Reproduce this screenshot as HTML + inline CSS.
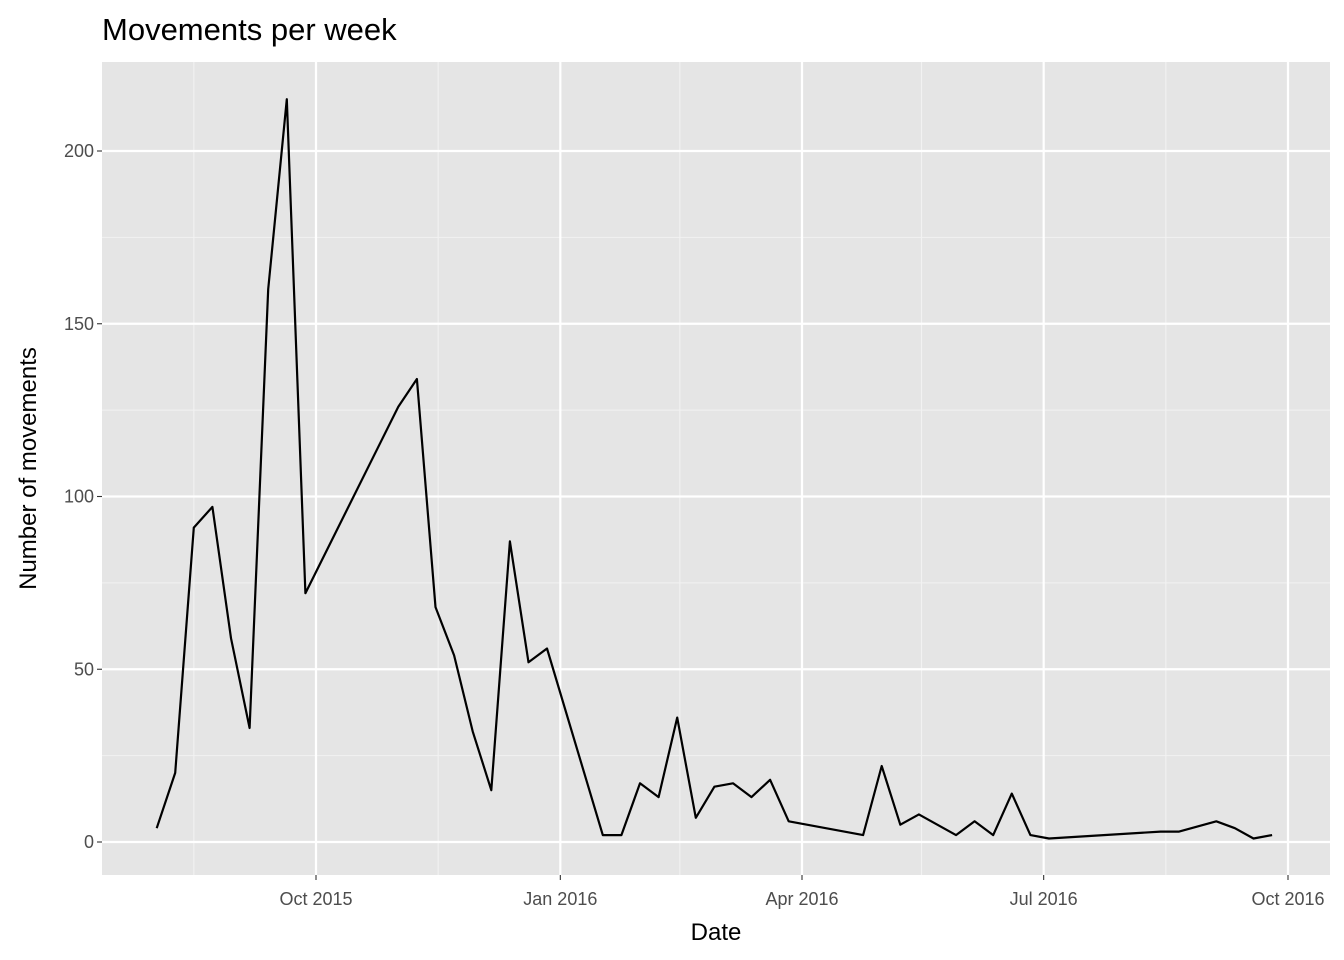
<!DOCTYPE html>
<html><head><meta charset="utf-8"><style>
html,body{margin:0;padding:0;background:#fff;}
svg{display:block;font-family:"Liberation Sans",Arial,sans-serif;}
</style></head><body>
<svg id="chart" width="1344" height="960"></svg>
<script>
const dates = ["2015-08-02","2015-08-09","2015-08-16","2015-08-23","2015-08-30","2015-09-06","2015-09-13","2015-09-20","2015-09-27",
"2015-11-01","2015-11-08","2015-11-15","2015-11-22","2015-11-29","2015-12-06","2015-12-13","2015-12-20","2015-12-27",
"2016-01-17","2016-01-24","2016-01-31","2016-02-07","2016-02-14","2016-02-21","2016-02-28","2016-03-06","2016-03-13","2016-03-20","2016-03-27",
"2016-04-24","2016-05-01","2016-05-08","2016-05-15",
"2016-05-29","2016-06-05","2016-06-12","2016-06-19","2016-06-26","2016-07-03",
"2016-08-14","2016-08-21",
"2016-09-04","2016-09-11","2016-09-18","2016-09-25"];
const counts = [4,20,91,97,59,33,160,215,72,
126,134,68,54,32,15,87,52,56,
2,2,17,13,36,7,16,17,13,18,6,
2,22,5,8,
2,6,2,14,2,1,
3,3,
6,4,1,2];
const yTicks = [0,50,100,150,200];
const yMinor = [25,75,125,175];
const xTickDates = ["2015-10-01","2016-01-01","2016-04-01","2016-07-01","2016-10-01"];
const xTickLabels = ["Oct 2015","Jan 2016","Apr 2016","Jul 2016","Oct 2016"];
const xMinorDates = ["2015-08-16","2015-11-16","2016-02-15","2016-05-16","2016-08-16"];

const NS="http://www.w3.org/2000/svg";
const svg=document.getElementById('chart');
const P={l:102,r:1330,t:62,b:875};
const day=s=>Date.UTC(+s.slice(0,4),+s.slice(5,7)-1,+s.slice(8,10))/86400000;
const d0=day("2015-10-01"), d1=day("2016-10-01");
const pxPerDay=(1288-316)/(d1-d0);
const X=s=>316+(day(s)-d0)*pxPerDay;
const Y=v=>842-v*(842-151)/200;
function el(t,a,p){const e=document.createElementNS(NS,t);for(const k in a)e.setAttribute(k,a[k]);(p||svg).appendChild(e);return e;}

const bg=el('rect',{x:P.l,y:P.t,width:P.r-P.l,height:P.b-P.t,fill:'#e5e5e5'});


yMinor.forEach(v=>{const g=el('line',{x1:P.l,x2:P.r,y1:Y(v),y2:Y(v),stroke:'#f2f2f2','stroke-width':1.1});

});
xMinorDates.forEach(s=>{const g=el('line',{x1:X(s),x2:X(s),y1:P.t,y2:P.b,stroke:'#f2f2f2','stroke-width':1.1});

});
yTicks.forEach(v=>{const g=el('line',{x1:P.l,x2:P.r,y1:Y(v),y2:Y(v),stroke:'#fff','stroke-width':2.2});


const tk=el('line',{x1:P.l-5,x2:P.l,y1:Y(v),y2:Y(v),stroke:'#333','stroke-width':1.1});


const t=el('text',{x:P.l-8,y:Y(v)+6,'text-anchor':'end','font-size':18,fill:'#4d4d4d'});t.textContent=v;

});
xTickDates.forEach((s,i)=>{const g=el('line',{x1:X(s),x2:X(s),y1:P.t,y2:P.b,stroke:'#fff','stroke-width':2.2});


const tk=el('line',{x1:X(s),x2:X(s),y1:P.b,y2:P.b+5,stroke:'#333','stroke-width':1.1});


const t=el('text',{x:X(s),y:P.b+30,'text-anchor':'middle','font-size':18,fill:'#4d4d4d'});t.textContent=xTickLabels[i];

});
const line=el('polyline',{points:dates.map((s,i)=>X(s).toFixed(1)+','+Y(counts[i]).toFixed(1)).join(' '),fill:'none',stroke:'#000','stroke-width':2.2,'stroke-linejoin':'round'});


const title=el('text',{x:102,y:40,'font-size':31,fill:'#000'});title.textContent='Movements per week';


const xt=el('text',{x:(P.l+P.r)/2,y:940,'text-anchor':'middle','font-size':24,fill:'#000'});xt.textContent='Date';


const yt=el('text',{x:0,y:0,'text-anchor':'middle','font-size':24,fill:'#000',transform:'translate(36,'+((P.t+P.b)/2)+') rotate(-90)'});yt.textContent='Number of movements';


</script>
</body></html>
